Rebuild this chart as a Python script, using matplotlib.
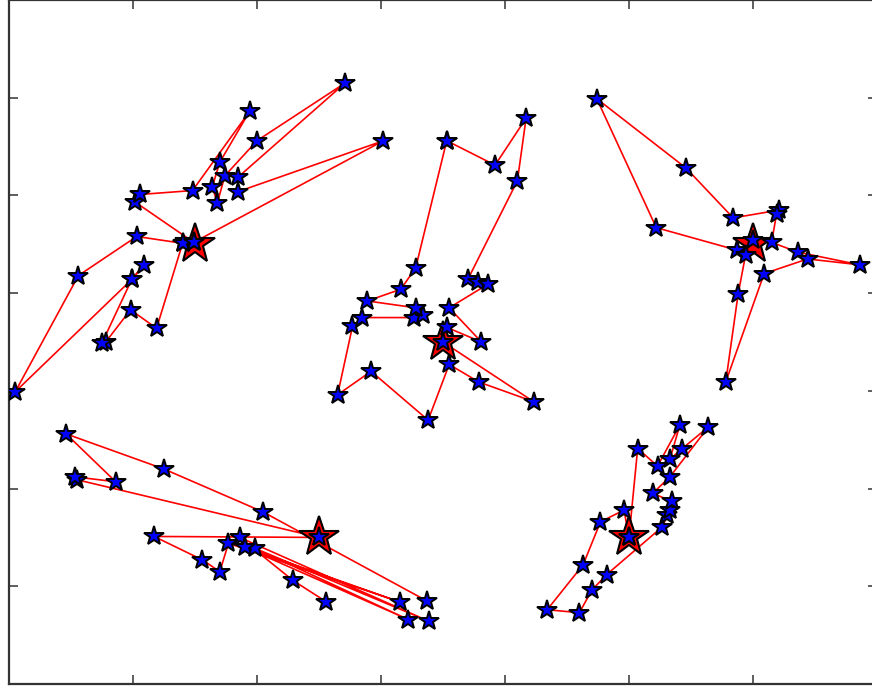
import matplotlib
matplotlib.use("Agg")
import matplotlib.pyplot as plt

# cluster members, listed in the order the red path visits them
# (a point may be listed twice where the path comes back through it)
c1_x = [1.85, 3.02, 1.49, 1.40, 1.19, 0.98, 0.78, 0.75, 0.99, 1.09, 0.99, 0.05,
        0.56, 1.03, 1.40, 1.49, 1.02, 1.06, 1.48, 1.94, 1.70, 1.64, 1.68, 1.74,
        2.00, 2.71, 1.85]
c1_y = [5.04, 5.56, 4.52, 4.51, 3.64, 3.83, 3.50, 3.49, 4.14, 4.29, 4.14, 2.99,
        4.18, 4.58, 4.51, 4.52, 4.93, 5.01, 5.05, 5.86, 5.34, 5.09, 4.92, 5.20,
        5.56, 6.15, 5.19]

c2_x = [3.53, 3.92, 4.17, 4.10, 3.70, 3.78, 3.86, 3.55, 3.81, 3.53, 3.50, 4.23,
        3.79, 3.55, 3.38, 2.92, 2.65, 2.77, 2.85, 3.27, 3.34, 3.28, 2.89, 3.16,
        3.28, 3.53]
c2_y = [5.56, 5.31, 5.79, 5.15, 4.14, 4.11, 4.09, 3.85, 3.50, 3.65, 3.50, 2.89,
        3.09, 3.27, 2.70, 3.20, 2.96, 3.66, 3.75, 3.75, 3.78, 3.85, 3.92, 4.04,
        4.26, 5.56]

c3_x = [5.87, 5.22, 4.74, 5.46, 5.84, 6.21, 6.19, 6.15, 6.36, 6.86, 6.44, 6.09,
        5.78, 5.88, 5.94, 6.00]
c3_y = [4.44, 4.67, 5.99, 5.28, 4.77, 4.85, 4.81, 4.52, 4.42, 4.29, 4.35, 4.20,
        3.09, 3.99, 4.39, 4.54]

c4_x = [2.56, 2.29, 1.86, 3.39, 1.98, 3.22, 1.90, 3.15, 1.77, 1.70, 1.56, 1.17,
        2.50, 0.55, 0.53, 0.86, 0.46, 1.25, 2.05, 3.37]
c4_y = [0.84, 1.06, 1.50, 0.64, 1.39, 0.66, 1.40, 0.84, 1.44, 1.15, 1.27, 1.51,
        1.50, 2.09, 2.12, 2.07, 2.56, 2.20, 1.76, 0.85]

c5_x = [5.00, 4.96, 4.77, 4.63, 4.34, 4.60, 4.70, 4.82, 5.27, 5.31, 5.33, 5.35,
        5.19, 5.33, 5.64, 5.43, 5.33, 5.41, 5.23, 5.07, 5.00]
c5_y = [1.50, 1.78, 1.66, 1.22, 0.76, 0.73, 0.96, 1.12, 1.61, 1.73, 1.78, 1.87,
        1.95, 2.12, 2.63, 2.41, 2.30, 2.65, 2.23, 2.41, 1.50]

# cluster centres
cent_x = [1.50, 3.50, 6.00, 2.50, 5.00]
cent_y = [4.50, 3.50, 4.50, 1.50, 1.50]

clusters = [(c1_x, c1_y), (c2_x, c2_y), (c3_x, c3_y), (c4_x, c4_y), (c5_x, c5_y)]

fig = plt.figure(figsize=(8.72, 6.87), dpi=100)
ax = fig.add_axes([9 / 872, 3 / 687, 868 / 872, 684 / 687])

for xs, ys in clusters:
    ax.plot(xs, ys, '-', color='red', lw=1.2, zorder=1)

ax.plot(cent_x, cent_y, '*', ls='none', ms=30, mfc='red', mec='black',
        mew=1.5, zorder=2)

for xs, ys in clusters:
    ax.plot(xs, ys, '*', ls='none', ms=15, mfc='blue', mec='black',
            mew=1.4, zorder=3)

ax.set_xlim(0, 7)
ax.set_ylim(0, 7)
ax.set_xticks([1, 2, 3, 4, 5, 6])
ax.set_yticks([1, 2, 3, 4, 5, 6])
ax.tick_params(direction='in', length=6.5, width=1.1, color='#333333',
               top=True, right=True, labelbottom=False, labelleft=False)
for sp in ax.spines.values():
    sp.set_linewidth(1.6)
    sp.set_color('#333333')

fig.savefig('out.png', dpi=100)
